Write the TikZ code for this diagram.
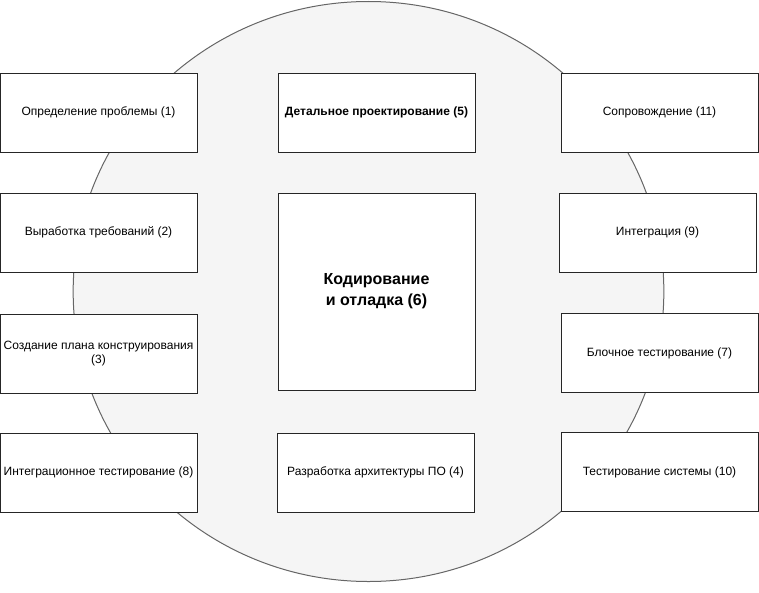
\documentclass[tikz,border=0pt]{standalone}
\usepackage{fontspec}
\setmainfont{Liberation Sans}
\usetikzlibrary{shapes.geometric}
\begin{document}
\begin{tikzpicture}[x=0.75pt,y=-0.75pt,
  stage/.style={draw=black!85, fill=white, line width=0.75pt,
    minimum width=147.75pt, minimum height=59.25pt, inner sep=1pt,
    align=center, font=\fontsize{9}{10.5}\selectfont},
  keystage/.style={stage, minimum height=147.75pt,
    font=\fontsize{12}{15.75}\selectfont\bfseries}]
  \useasboundingbox (0,0) rectangle (759,592);
  % background cycle
  \node[draw=black!60, fill=black!4, line width=0.75pt, ellipse,
        minimum width=443pt, minimum height=435pt, inner sep=0pt] (cycle) at (368.5,291.5) {};
  % left column
  \node[stage] (s1) at (98.5,112.5) {Определение проблемы (1)};
  \node[stage] (s2) at (98.5,232.5) {Выработка требований (2)};
  \node[stage] (s3) at (98.5,353.5) {Создание плана конструирования\\(3)};
  \node[stage] (s8) at (98.5,472.5) {Интеграционное тестирование (8)};
  % middle column
  \node[stage, font=\fontsize{9}{10.5}\selectfont\bfseries] (s5) at (376.5,112.5) {Детальное проектирование (5)};
  \node[keystage] (s6) at (376.5,291.5) {Кодирование\\ и отладка (6)};
  \node[stage] (s4) at (375.5,472.5) {Разработка архитектуры ПО (4)};
  % right column
  \node[stage] (s11) at (659.5,112.5) {Сопровождение (11)};
  \node[stage] (s9) at (657.5,232.5) {Интеграция (9)};
  \node[stage] (s7) at (659.5,353) {Блочное тестирование (7)};
  \node[stage] (s10) at (659.5,472) {Тестирование системы (10)};
\end{tikzpicture}
\end{document}
